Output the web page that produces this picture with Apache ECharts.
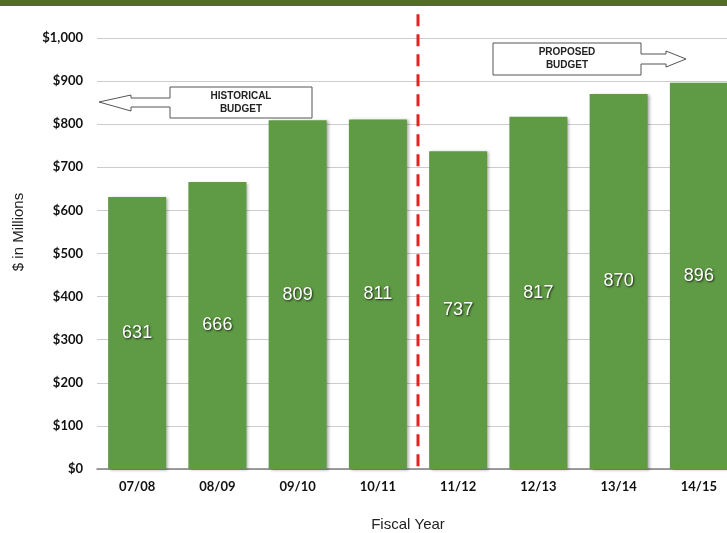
<!DOCTYPE html>
<html>
<head>
<meta charset="utf-8">
<script src="https://cdn.jsdelivr.net/npm/echarts@6/dist/echarts.min.js"></script>
<style>
  html, body { margin: 0; padding: 0; background: #fff; }
  #chart { width: 727px; height: 533px; }
</style>
</head>
<body>
<div id="chart"></div>
<script>
// Fiscal years and budget totals ($ millions)
const fiscalYears = ['07/08', '08/09', '09/10', '10/11', '11/12', '12/13', '13/14', '14/15'];
const budgetValues = [631, 666, 809, 811, 737, 817, 870, 896];
const yTicks = [0, 100, 200, 300, 400, 500, 600, 700, 800, 900, 1000];
const lastHistoricalIndex = 3;   // 10/11 is the last historical year
const dividerTopValue = 1055;    // divider runs a little above the top gridline

const chart = echarts.init(document.getElementById('chart'));

function money(v) {
  return '$' + v.toLocaleString('en-US');
}

chart.setOption({
  animation: false,
  backgroundColor: '#ffffff',
  grid: { left: 97, top: 38, width: 642, height: 431, containLabel: false, outerBoundsMode: 'none' },
  xAxis: {
    type: 'category',
    data: fiscalYears,
    name: 'Fiscal Year',
    nameLocation: 'middle',
    nameGap: 48,
    nameTextStyle: { fontFamily: 'Liberation Sans', fontSize: 15, color: '#222', padding: [0, 20, 0, 0] },
    axisLine: { lineStyle: { color: '#808080', width: 1.5 } },
    axisTick: { show: false },
    axisLabel: { margin: 11, fontFamily: 'Lato', fontWeight: 'bold', fontSize: 13, color: '#111' }
  },
  yAxis: {
    type: 'value',
    min: yTicks[0],
    max: yTicks[yTicks.length - 1],
    interval: yTicks[1] - yTicks[0],
    axisLine: { show: false },
    axisTick: { show: false },
    axisLabel: { margin: 14, fontFamily: 'Lato', fontWeight: 'bold', fontSize: 13, color: '#111', formatter: money },
    splitLine: { lineStyle: { color: '#cccccc', width: 1 } }
  },
  series: [{
    type: 'bar',
    data: budgetValues,
    barWidth: 58,
    itemStyle: {
      color: '#5f9a45',
      shadowColor: 'rgba(0,0,0,0.35)',
      shadowBlur: 3,
      shadowOffsetX: 2,
      shadowOffsetY: 1
    },
    label: {
      show: true,
      position: 'inside',
      fontFamily: 'Liberation Sans',
      fontSize: 18,
      color: '#ffffff',
      textShadowColor: 'rgba(0,0,0,0.75)',
      textShadowBlur: 2,
      textShadowOffsetX: 1,
      textShadowOffsetY: 1
    }
  }]
});

// Divider between historical and proposed years, placed through the axes
const leftCenter = chart.convertToPixel({ xAxisIndex: 0 }, fiscalYears[lastHistoricalIndex]);
const rightCenter = chart.convertToPixel({ xAxisIndex: 0 }, fiscalYears[lastHistoricalIndex + 1]);
const dividerX = (leftCenter + rightCenter) / 2;
const dividerTop = chart.convertToPixel({ yAxisIndex: 0 }, dividerTopValue);
const dividerBottom = chart.convertToPixel({ yAxisIndex: 0 }, 0);

const calloutText = {
  fontFamily: 'Liberation Sans',
  fontWeight: 'bold',
  fontSize: 10,
  lineHeight: 13,
  fill: '#222',
  align: 'center',
  verticalAlign: 'middle'
};
const outline = { fill: '#ffffff', stroke: '#555555', lineWidth: 1 };

chart.setOption({
  graphic: [
    // dark green band along the top edge
    { type: 'rect', shape: { x: 0, y: 0, width: 727, height: 6 }, style: { fill: '#536b2d' }, z: 10 },
    // vertical axis title
    {
      type: 'text', x: 19, y: 232, rotation: Math.PI / 2,
      style: { text: '$ in Millions', fontFamily: 'Liberation Sans', fontSize: 15, fill: '#222', align: 'center', verticalAlign: 'middle' }
    },
    {
      type: 'line',
      shape: { x1: dividerX, y1: dividerTop, x2: dividerX, y2: dividerBottom },
      style: { stroke: '#e02424', lineWidth: 3, lineDash: [12, 8] },
      z: 5
    },
    // "Historical budget" callout pointing left
    {
      type: 'polygon',
      shape: { points: [[170, 87], [312, 87], [312, 118], [170, 118], [170, 107], [131, 107], [131, 111], [99, 102], [131, 95], [131, 98], [170, 98]] },
      style: outline, z: 6
    },
    { type: 'text', x: 241, y: 103, style: Object.assign({ text: 'HISTORICAL\nBUDGET' }, calloutText), z: 7 },
    // "Proposed budget" callout pointing right
    {
      type: 'polygon',
      shape: { points: [[493, 43], [641, 43], [641, 54], [666, 54], [666, 51], [686, 59], [666, 67], [666, 64], [641, 64], [641, 75], [493, 75]] },
      style: outline, z: 6
    },
    { type: 'text', x: 567, y: 59, style: Object.assign({ text: 'PROPOSED\nBUDGET' }, calloutText), z: 7 }
  ]
});
</script>
</body>
</html>
